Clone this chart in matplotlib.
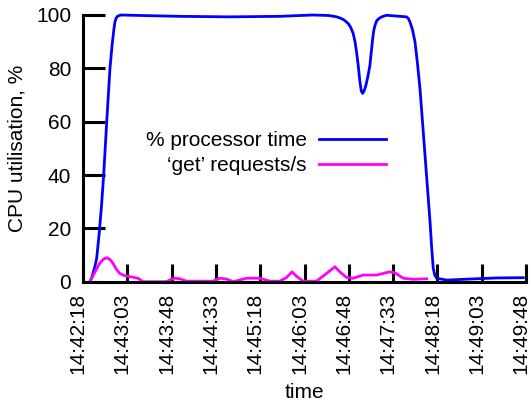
import matplotlib
matplotlib.use("Agg")
import matplotlib.pyplot as plt
from matplotlib.transforms import ScaledTranslation

plt.rcParams['font.family'] = ['Liberation Sans', 'DejaVu Sans']
plt.rcParams['font.size'] = 15

# seconds after 14:42:18
cpu_t = [7.1, 9.0, 10.6, 12.3, 13.9, 16.3, 18.7, 21.0, 24.1, 27.4, 29.5, 31.5, 32.5, 33.5,
         35.3, 38.6, 60, 98.3, 149, 200, 233.8, 250, 257.6, 260.9, 265, 269.4, 272, 274.5,
         276.3, 277.9, 279.6, 281.3, 282.7, 284.0, 285.6, 287.4, 289.4, 291.4, 292.8,
         294.2, 295.3, 296.5, 298.3, 300, 303.3, 308.4, 328.7, 330.5, 332.1, 334.7,
         337.2, 339.7, 342.3, 347.4, 352.5, 354.3, 355.8, 357.3, 359.2, 369.4, 393,
         420, 447.3]
cpu_pct = [0, 1.6, 3.7, 6.0, 8.8, 17.5, 28, 40, 60, 80, 88.5, 95, 97.5, 98.7,
           99.6, 100, 99.8, 99.5, 99.3, 99.5, 100, 99.8, 99.3, 98.9, 98.2, 96.8, 95.3, 93,
           90, 86, 81, 74.9, 71.5, 70.6, 71.6, 73.7, 77, 81, 86,
           91, 94, 96, 97.8, 98.5, 99.3, 99.9, 99.3, 98.7, 97.4, 94.5,
           90, 82, 72.4, 47.5, 22.5, 12, 5, 2.5, 1.3, 0.6, 1.0,
           1.4, 1.5]

req_t = [6.8, 12, 17, 21, 24.4, 27.5, 30.5, 34, 37.3, 42, 47.5, 55.9, 61, 84.8, 89, 93.2,
         98.3, 105.1, 132.1, 138.9, 145.8, 152.5, 166.1, 179.6, 189.8, 199.9, 206.8,
         212.4, 216.9, 223.6, 237.2, 247.4, 255.9, 260.9, 267.7, 274.5, 284.6, 298.2,
         305, 311.8, 316.9, 325.3, 335.4, 349.1]
req_rate = [0, 3.5, 6.9, 8.5, 9.0, 8.3, 6.9, 4.6, 3.1, 2.3, 1.9, 1.3, 0, 0, 0.8, 1.3,
            1.1, 0.2, 0.2, 1.3, 1.0, 0, 1.3, 1.3, 0.2, 0.2, 1.6,
            3.7, 2.0, 0.2, 0.2, 3.1, 5.6, 3.7, 1.6, 1.3, 2.5, 2.5,
            3.1, 3.7, 3.3, 1.3, 0.9, 1.1]

tick_labels = ["14:42:18", "14:43:03", "14:43:48", "14:44:33", "14:45:18", "14:46:03",
               "14:46:48", "14:47:33", "14:48:18", "14:49:03", "14:49:48"]
tick_pos = [45 * i for i in range(len(tick_labels))]
y_ticks = [0, 20, 40, 60, 80, 100]

fig = plt.figure(figsize=(5.31, 4.03), dpi=100)
ax = fig.add_axes([0.1563, 0.301, 0.8343, 0.6618])

ax.plot(cpu_t, cpu_pct, color='#0000ff', lw=2.0, label='% processor time', clip_on=False)
ax.plot(req_t, req_rate, color='#ff00ff', lw=2.0, label='\u2018get\u2019 requests/s', clip_on=False)

ax.set_xlim(0, 450)
ax.set_ylim(0, 100)
ax.set_xticks(tick_pos)
ax.set_xticklabels(tick_labels, rotation=90)
ax.set_yticks(y_ticks)

for s in ['top', 'right']:
    ax.spines[s].set_visible(False)
for s in ['left', 'bottom']:
    ax.spines[s].set_linewidth(2.2)

ax.tick_params(axis='y', direction='in', length=16, width=2.2, pad=8.6)
ax.tick_params(axis='x', direction='in', length=13, width=2.2, pad=8)

ax.set_xlabel('time', labelpad=6)
ax.set_ylabel('CPU utilisation, %', labelpad=7)

ax.legend(loc='center right', bbox_to_anchor=(0.684, 0.4826), frameon=False,
          markerfirst=False, handlelength=3.2, handletextpad=0.6,
          labelspacing=0.3, borderpad=0, borderaxespad=0)

# gnuplot puts the rotated labels a little left of the ticks
fig.canvas.draw()
shift = ScaledTranslation(-5 / 100, 0, fig.dpi_scale_trans)
for tick in ax.xaxis.get_major_ticks():
    tick.label1.set_transform(tick.label1.get_transform() + shift)

fig.savefig("out.png", dpi=100)
